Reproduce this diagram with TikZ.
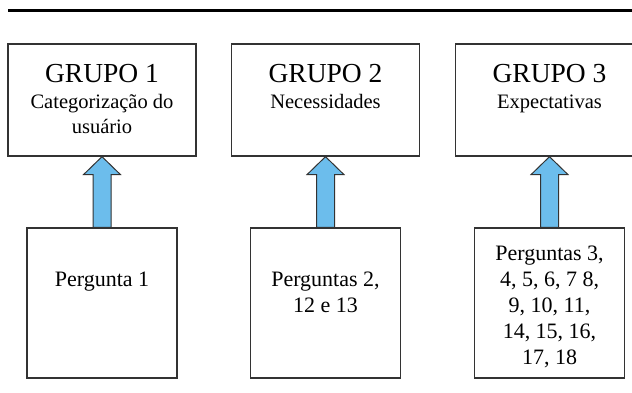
\documentclass[tikz,border=0pt]{standalone}
\usepackage{fontspec}
\setmainfont{Liberation Serif}
\usetikzlibrary{calc}
\definecolor{azulseta}{RGB}{108,189,236}

\begin{document}
\begin{tikzpicture}[x=1pt, y=1pt,
  grupo/.style={draw=black!80, line width=1.3pt, minimum width=188pt, inner sep=0pt,
    text width=184pt, align=flush center, font=\fontsize{20.5}{25}\selectfont,
    text height=39pt, text depth=73pt},
  pergunta/.style={draw=black!80, line width=1.3pt, minimum width=150pt, inner sep=0pt,
    text width=146pt, align=flush center, font=\fontsize{22}{26}\selectfont,
    text height=58pt, text depth=92pt},
  seta/.style={draw=black!80, line width=1pt, fill=azulseta}]
\useasboundingbox (0,0) rectangle (632,392);
\draw[line width=3pt] (8,381.5) -- (640,381.5);

\node[grupo] (g1) at (102, 292) {{\fontsize{27.5}{30}\selectfont GRUPO 1}\\Categorização do\\usuário};
\node[grupo] (g2) at (325.5, 292) {{\fontsize{27.5}{30}\selectfont GRUPO 2}\\Necessidades};
\node[grupo] (g3) at (549.5, 292) {{\fontsize{27.5}{30}\selectfont GRUPO 3}\\Expectativas};

\node[pergunta] (p1) at (102, 89) {Pergunta 1};
\node[pergunta] (p2) at (325.5, 89) {Perguntas 2,\\12 e 13};
\node[pergunta, text height=32pt, text depth=118pt] (p3) at (549.5, 89)
  {Perguntas 3,\\4, 5, 6, 7 8,\\9, 10, 11,\\14, 15, 16,\\17, 18};

\foreach \i in {1,2,3}
  \draw[seta] ($(p\i.north)+(-9,0)$) -- ($(g\i.south)+(-9,-18)$) -- ($(g\i.south)+(-18.5,-18)$)
    -- (g\i.south) -- ($(g\i.south)+(18.5,-18)$) -- ($(g\i.south)+(9,-18)$)
    -- ($(p\i.north)+(9,0)$) -- cycle;
\end{tikzpicture}
\end{document}
